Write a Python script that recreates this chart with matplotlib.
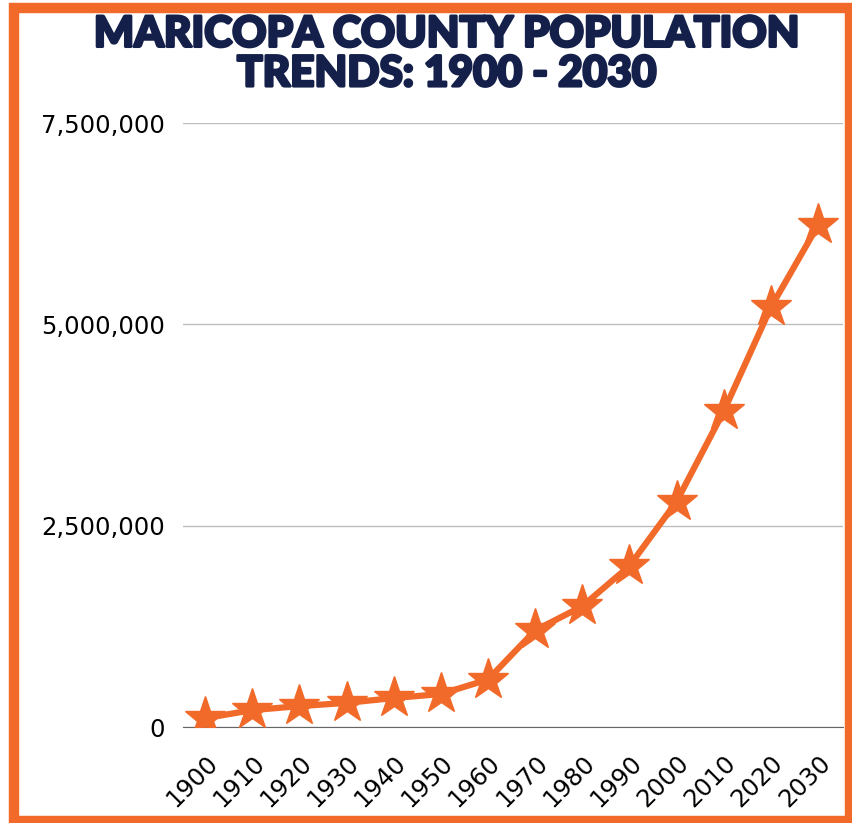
import matplotlib.pyplot as plt
import matplotlib.patheffects as pe
from matplotlib.patches import Rectangle

# --- data ---
years = ['1900', '1910', '1920', '1930', '1940', '1950', '1960',
         '1970', '1980', '1990', '2000', '2010', '2020', '2030']
population = [110000, 210000, 260000, 300000, 360000, 410000, 590000,
              1200000, 1500000, 2000000, 2800000, 3920000, 5210000, 6230000]
yticks = [0, 2500000, 5000000, 7500000]
ytick_labels = ['0', '2,500,000', '5,000,000', '7,500,000']

orange = '#F26A2A'
navy = '#14204A'

fig = plt.figure(figsize=(8.52, 8.23), dpi=100)

# orange frame round the whole picture
fig.patches.append(Rectangle((0.017, 0.0024), 0.9807, 0.9879, transform=fig.transFigure,
                             fill=False, edgecolor=orange, linewidth=7.5))

ax = fig.add_axes([0.2148, 0.1166, 0.7746, 0.7339])
x = list(range(len(years)))
ax.plot(x, population, color=orange, linewidth=4.5, marker='*', markersize=31,
        solid_joinstyle='round', solid_capstyle='round', zorder=3)

ax.set_xlim(-0.47, 13.53)
ax.set_ylim(0, 7500000)
ax.set_yticks(yticks)
ax.set_yticklabels(ytick_labels, fontsize=17.5)
ax.set_xticks(x)
ax.set_xticklabels(years, fontsize=17.5, rotation=45, ha='right', rotation_mode='anchor')
ax.tick_params(length=0)
ax.tick_params(axis='y', pad=13)
ax.tick_params(axis='x', pad=17)

ax.grid(axis='y', color='#bdbdbd', linewidth=1)
for s in ['top', 'right', 'left']:
    ax.spines[s].set_visible(False)
ax.spines['bottom'].set_color('#666666')
ax.set_axisbelow(True)

fig.text(0.525, 0.981, 'MARICOPA COUNTY POPULATION\nTRENDS: 1900 - 2030', ha='center', va='top',
         fontsize=30.5, fontweight='black', color=navy, family=['Lato', 'DejaVu Sans'],
         linespacing=1.05,
         path_effects=[pe.withStroke(linewidth=2, foreground=navy)])

fig.savefig('out.png', dpi=100)
